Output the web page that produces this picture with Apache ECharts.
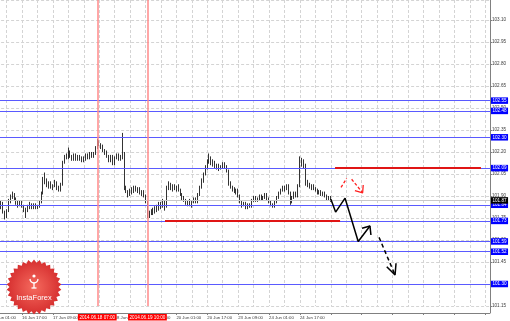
<!DOCTYPE html>
<html><head><meta charset="utf-8">
<script src="https://cdn.jsdelivr.net/npm/echarts@6/dist/echarts.min.js"></script>
<style>html,body{margin:0;padding:0;background:#fff}#c{width:510px;height:321px}</style>
</head><body><div id="c"></div>
<script>
// H1 bars: [open, close, low, high]
const day16 = [ // 16 Jun 06:00 - 23:00
[101.83,101.85,101.81,101.87],[101.85,101.79,101.78,101.86],[101.79,101.76,101.74,101.80],[101.76,101.80,101.75,101.81],
[101.80,101.86,101.79,101.88],[101.86,101.90,101.85,101.91],[101.90,101.91,101.88,101.93],[101.91,101.88,101.87,101.92],
[101.88,101.85,101.84,101.89],[101.85,101.84,101.82,101.87],[101.84,101.86,101.83,101.87],[101.86,101.83,101.82,101.87],
[101.83,101.81,101.79,101.84],[101.81,101.80,101.75,101.82],[101.80,101.83,101.79,101.84],[101.83,101.84,101.81,101.86],
[101.84,101.82,101.81,101.85],[101.82,101.84,101.81,101.85]];
const day17 = [
[101.84,101.82,101.81,101.85],[101.82,101.83,101.81,101.84],[101.83,101.86,101.82,101.87],[101.86,101.92,101.85,101.93],
[101.92,102.02,101.91,102.03],[102.02,102.00,101.98,102.06],[102.00,101.97,101.96,102.02],[101.97,101.99,101.95,102.00],
[101.99,101.96,101.95,102.00],[101.96,101.97,101.94,101.98],[101.97,101.99,101.96,102.01],[101.99,101.95,101.94,102.00],
[101.95,101.94,101.93,101.97],[101.94,101.98,101.93,101.99],[101.98,102.13,101.97,102.14],[102.13,102.17,102.12,102.18],
[102.17,102.16,102.15,102.19],[102.16,102.20,102.15,102.23],[102.20,102.17,102.16,102.21],[102.17,102.15,102.14,102.18],
[102.15,102.18,102.14,102.19],[102.18,102.15,102.14,102.19],[102.15,102.17,102.14,102.18],[102.17,102.16,102.14,102.18]];
const day18 = [
[102.16,102.14,102.13,102.17],[102.14,102.15,102.13,102.17],[102.15,102.18,102.14,102.19],[102.18,102.16,102.15,102.19],
[102.16,102.19,102.15,102.20],[102.19,102.17,102.16,102.20],[102.17,102.19,102.16,102.20],[102.19,102.23,102.18,102.24],
[102.23,102.27,102.22,102.29],[102.27,102.25,102.24,102.28],[102.25,102.24,102.22,102.26],[102.24,102.21,102.20,102.25],
[102.21,102.20,102.18,102.22],[102.20,102.17,102.16,102.21],[102.17,102.14,102.13,102.18],[102.14,102.17,102.13,102.18],
[102.17,102.12,102.11,102.18],[102.12,102.16,102.11,102.17],[102.16,102.18,102.15,102.19],[102.18,102.15,102.14,102.19],
[102.15,102.17,102.14,102.18],[102.17,102.19,102.15,102.33],[102.19,101.96,101.94,102.20],[101.96,101.93,101.92,101.97]];
const day19 = [
[101.93,101.91,101.89,101.94],[101.91,101.94,101.90,101.95],[101.94,101.93,101.91,101.96],[101.93,101.96,101.92,101.97],
[101.96,101.94,101.93,101.97],[101.94,101.95,101.92,101.96],[101.95,101.92,101.91,101.96],[101.92,101.93,101.90,101.94],
[101.93,101.90,101.89,101.94],[101.90,101.86,101.85,101.91],[101.86,101.77,101.75,101.87],[101.77,101.78,101.75,101.80],
[101.78,101.80,101.77,101.81],[101.80,101.79,101.77,101.82],[101.79,101.82,101.78,101.83],[101.82,101.81,101.79,101.84],
[101.81,101.85,101.80,101.86],[101.85,101.83,101.81,101.86],[101.83,101.86,101.82,101.88],[101.86,101.83,101.80,101.87],
[101.83,101.96,101.82,101.97],[101.96,101.98,101.94,102.00],[101.98,101.95,101.94,101.99],[101.95,101.97,101.93,101.98]];
const day20 = [
[101.97,101.95,101.94,101.98],[101.95,101.96,101.93,101.97],[101.96,101.94,101.93,101.98],[101.94,101.91,101.90,101.95],
[101.91,101.89,101.87,101.92],[101.89,101.87,101.86,101.90],[101.87,101.85,101.84,101.88],[101.85,101.86,101.83,101.87],
[101.86,101.84,101.83,101.88],[101.84,101.86,101.82,101.87],[101.86,101.88,101.85,101.89],[101.88,101.86,101.85,101.89],
[101.86,101.91,101.85,101.92],[101.91,101.96,101.90,101.97],[101.96,102.01,101.95,102.02],[102.01,102.05,101.99,102.06],
[102.05,102.10,102.04,102.11],[102.10,102.13,102.08,102.15],[102.13,102.16,102.12,102.19],[102.16,102.12,102.11,102.17],
[102.12,102.13,102.10,102.15],[102.13,102.10,102.09,102.14],[102.10,102.11,102.08,102.12],[102.11,102.09,102.07,102.12]];
const day23 = [
[102.09,102.10,102.08,102.11],[102.10,102.12,102.09,102.13],[102.12,102.10,102.09,102.13],[102.10,102.07,102.06,102.11],
[102.07,101.99,101.97,102.08],[101.99,101.96,101.95,102.00],[101.96,101.95,101.93,101.97],[101.95,101.93,101.92,101.96],
[101.93,101.94,101.91,101.95],[101.94,101.90,101.89,101.95],[101.90,101.86,101.85,101.91],[101.86,101.84,101.82,101.87],
[101.84,101.85,101.83,101.86],[101.85,101.82,101.81,101.86],[101.82,101.84,101.81,101.85],[101.84,101.83,101.82,101.85],
[101.83,101.87,101.82,101.88],[101.87,101.89,101.86,101.90],[101.89,101.87,101.86,101.90],[101.87,101.88,101.86,101.89],
[101.88,101.90,101.87,101.91],[101.90,101.88,101.87,101.91],[101.88,101.89,101.87,101.90],[101.89,101.91,101.88,101.92]];
const day24 = [
[101.91,101.88,101.87,101.92],[101.88,101.86,101.85,101.89],[101.86,101.84,101.83,101.87],[101.84,101.83,101.82,101.85],
[101.83,101.86,101.82,101.87],[101.86,101.89,101.85,101.90],[101.89,101.92,101.88,101.93],[101.92,101.94,101.91,101.95],
[101.94,101.96,101.93,101.97],[101.96,101.95,101.93,101.97],[101.95,101.97,101.94,101.98],[101.97,101.92,101.91,101.98],
[101.92,101.86,101.84,101.93],[101.86,101.89,101.85,101.90],[101.89,101.92,101.88,101.93],[101.92,101.90,101.89,101.93],
[101.90,101.97,101.89,101.98],[101.97,102.12,101.96,102.17],[102.12,102.14,102.10,102.16],[102.14,102.11,102.09,102.15],
[102.11,101.99,101.97,102.12],[101.99,101.98,101.96,102.01],[101.98,101.96,101.95,101.99],[101.96,101.97,101.94,101.98]];
const day25 = [
[101.97,101.95,101.94,101.98],[101.95,101.94,101.93,101.96],[101.94,101.92,101.91,101.95],[101.92,101.93,101.91,101.94],
[101.93,101.91,101.90,101.94],[101.91,101.92,101.90,101.93],[101.92,101.90,101.89,101.93],[101.90,101.88,101.87,101.91],
[101.88,101.89,101.87,101.90],[101.89,101.87,101.86,101.90]];
const firstBar = -11; // bar index of 16 Jun 06:00 (bar 0 = 16 Jun 17:00)

// time axis tick labels (bar index -> label)
const tickBars = [-16, 0, 16, 32, 48, 64, 80, 96, 112, 128, 144];
const tickLabels = ['16 Jun 01:00','16 Jun 17:00','17 Jun 09:00','18 Jun 01:00','18 Jun 17:00','19 Jun 09:00',
                    '20 Jun 01:00','20 Jun 17:00','23 Jun 09:00','24 Jun 01:00','24 Jun 17:00'];
// price axis
const priceMin = 101.15, priceMax = 103.236, priceStep = 0.15;
const barMin = -16, barMax = 242.49;

// horizontal levels (blue) and bid
const levelPrices = [102.55, 102.48, 102.30, 102.09, 101.84, 101.73, 101.59, 101.52, 101.30];
const bidPrice = 101.87;
// vertical time markers
const vLineBars = [39, 65];
const vLineLabels = ['2014.06.18 07:00', '2014.06.19 10:00'];
// red support/resistance segments [fromBar, toBar, price]
const redSegments = [[74.1, 164.8, 101.73], [162.2, 237.8, 102.09]];
// forecast drawings [bar, price]
const pathSolid = [[160, 101.88], [162.5, 101.79], [167.4, 101.885], [174.2, 101.59], [180.3, 101.695]];
const headSolid = [[176.2, 101.68], [180.3, 101.695], [180.8, 101.634]];
const pathDashed = [[185, 101.618], [193.3, 101.361]];
const headDashed = [[189, 101.418], [193.3, 101.361], [193.8, 101.441]];
const redUp = [[165.3, 101.959], [168.2, 102.02]];
const redDown = [[170.8, 102.014], [176.5, 101.922]];
const redHead = [[172.5, 101.936], [176.5, 101.922], [176.8, 101.975]];

const bars = [].concat(day16, day17, day18, day19, day20, day23, day24, day25);
const candleData = bars.map((b, k) => [firstBar + k, b[0], b[1], b[2], b[3]]);

const FONT = '"Liberation Sans", Arial, sans-serif';
const chart = echarts.init(document.getElementById('c'), null, {renderer: 'canvas'});

const markData = [];
levelPrices.forEach(p => markData.push({
  yAxis: p,
  lineStyle: {color: '#5a5aff', width: 1, type: 'solid'},
  label: {show: true, position: 'end', distance: 1, formatter: p.toFixed(2), backgroundColor: '#0000ff',
          color: '#fff', fontSize: 4.6, fontFamily: FONT, padding: [1, 1.5, 0.5, 1.5], lineHeight: 5}
}));
markData.push({
  yAxis: bidPrice,
  lineStyle: {color: '#c8c8c8', width: 1, type: 'solid'},
  label: {show: true, position: 'end', distance: 1, formatter: bidPrice.toFixed(2), backgroundColor: '#000',
          color: '#fff', fontSize: 4.6, fontFamily: FONT, padding: [1, 1.5, 0.5, 1.5], lineHeight: 5}
});
vLineBars.forEach((b, k) => markData.push({
  xAxis: b,
  lineStyle: {color: '#ff8a8a', width: 1.5, type: 'solid'},
  label: {show: true, position: 'start', distance: 8, formatter: vLineLabels[k], backgroundColor: '#ff0000',
          color: '#fff', fontSize: 4.6, fontFamily: FONT, padding: [1, 1.5, 0.5, 1.5], lineHeight: 5}
}));
redSegments.forEach(s => markData.push([
  {coord: [s[0], s[2]], lineStyle: {color: '#e01515', width: 2, type: 'solid'}, label: {show: false}},
  {coord: [s[1], s[2]]}
]));

function lineSeries(data, color, type, width) {
  return {type: 'line', data: data, symbol: 'none', silent: true, z: 6, animation: false,
          lineStyle: {color: color, width: width, type: type}};
}

// logo starburst outline
const star = [];
for (let k = 0; k < 60; k++) {
  const a = Math.PI * k / 30;
  const r = k % 2 ? 24.5 : 27.5;
  star.push([34 + r * Math.sin(a), 287 - r * Math.cos(a)]);
}
const cup = [];
for (let k = 0; k <= 8; k++) {
  const a = Math.PI * k / 8;
  cup.push([34 - 4 * Math.cos(a), 279 + 4 * Math.sin(a)]);
}

chart.setOption({
  animation: false,
  backgroundColor: '#ffffff',
  grid: {left: -8.88, right: 20, top: 0, bottom: 15, containLabel: false, outerBoundsMode: 'none'},
  xAxis: {
    type: 'value', min: barMin, max: barMax, interval: 16, offset: 7,
    axisLine: {show: true, onZero: false, lineStyle: {color: '#808080', width: 1}},
    axisTick: {show: true, length: 2, lineStyle: {color: '#808080'}},
    axisLabel: {fontSize: 4.3, fontFamily: FONT, color: '#3a3a3a', align: 'left', margin: 2.5,
      showMinLabel: true, showMaxLabel: false,
      formatter: v => { const i = tickBars.indexOf(Math.round(v)); return i >= 0 ? tickLabels[i] : ''; }},
    splitLine: {show: true, lineStyle: {color: '#d4d4d4', type: [3, 2], width: 1}},
    minorTick: {show: false, splitNumber: 2},
    minorSplitLine: {show: true, lineStyle: {color: '#d4d4d4', type: [3, 2], width: 1}}
  },
  yAxis: {
    type: 'value', position: 'right', min: priceMin, max: priceMax, interval: priceStep, scale: true,
    axisLine: {show: true, onZero: false, lineStyle: {color: '#808080', width: 1}},
    axisTick: {show: true, length: 2, lineStyle: {color: '#808080'}},
    axisLabel: {fontSize: 4.6, fontFamily: FONT, color: '#3a3a3a', margin: 2,
      showMinLabel: true, showMaxLabel: false, formatter: v => v.toFixed(2)},
    splitLine: {show: true, lineStyle: {color: '#d4d4d4', type: [3, 2], width: 1}}
  },
  series: [
    {type: 'line', data: [], z: 1, silent: true,
     markLine: {symbol: ['none', 'none'], silent: true, animation: false, precision: 2, data: markData}},
    {type: 'candlestick', data: candleData, encode: {x: 0, y: [1, 2, 3, 4]}, barWidth: 1.2, z: 4,
     silent: true, clip: true,
     itemStyle: {color: '#ffffff', color0: '#000000', borderColor: '#000000', borderColor0: '#000000', borderWidth: 0.8}},
    lineSeries(pathSolid, '#000', 'solid', 1.5),
    lineSeries(headSolid, '#000', 'solid', 1.5),
    lineSeries(pathDashed, '#000', [4, 3], 1.5),
    lineSeries(headDashed, '#000', 'solid', 1.5),
    lineSeries(redUp, '#ff2020', [3, 2], 1.3),
    lineSeries(redDown, '#ff2020', [3, 2], 1.3),
    lineSeries(redHead, '#ff2020', 'solid', 1.3)
  ],
  graphic: [
    {type: 'line', z: 50, shape: {x1: 490.5, y1: 305, x2: 490.5, y2: 313}, style: {stroke: '#808080', lineWidth: 1}},
    {type: 'polygon', z: 100, shape: {points: star},
     style: {fill: {type: 'radial', x: 0.5, y: 0.5, r: 0.5,
       colorStops: [{offset: 0, color: '#f56a5e'}, {offset: 1, color: '#d62f2f'}]}}},
    {type: 'circle', z: 101, shape: {cx: 34, cy: 276, r: 1.6}, style: {fill: '#fff'}},
    {type: 'polyline', z: 101, shape: {points: cup}, style: {stroke: '#fff', lineWidth: 1.3, fill: null}},
    {type: 'line', z: 101, shape: {x1: 34, y1: 283, x2: 34, y2: 288}, style: {stroke: '#fff', lineWidth: 1.3}},
    {type: 'line', z: 101, shape: {x1: 31.5, y1: 288, x2: 36.5, y2: 288}, style: {stroke: '#fff', lineWidth: 1.3}},
    {type: 'text', z: 101, x: 34, y: 298, style: {text: 'InstaForex', fill: '#ffffff',
      font: '7.5px "Liberation Sans", Arial, sans-serif', align: 'center', verticalAlign: 'middle'}}
  ]
});
</script></body></html>
